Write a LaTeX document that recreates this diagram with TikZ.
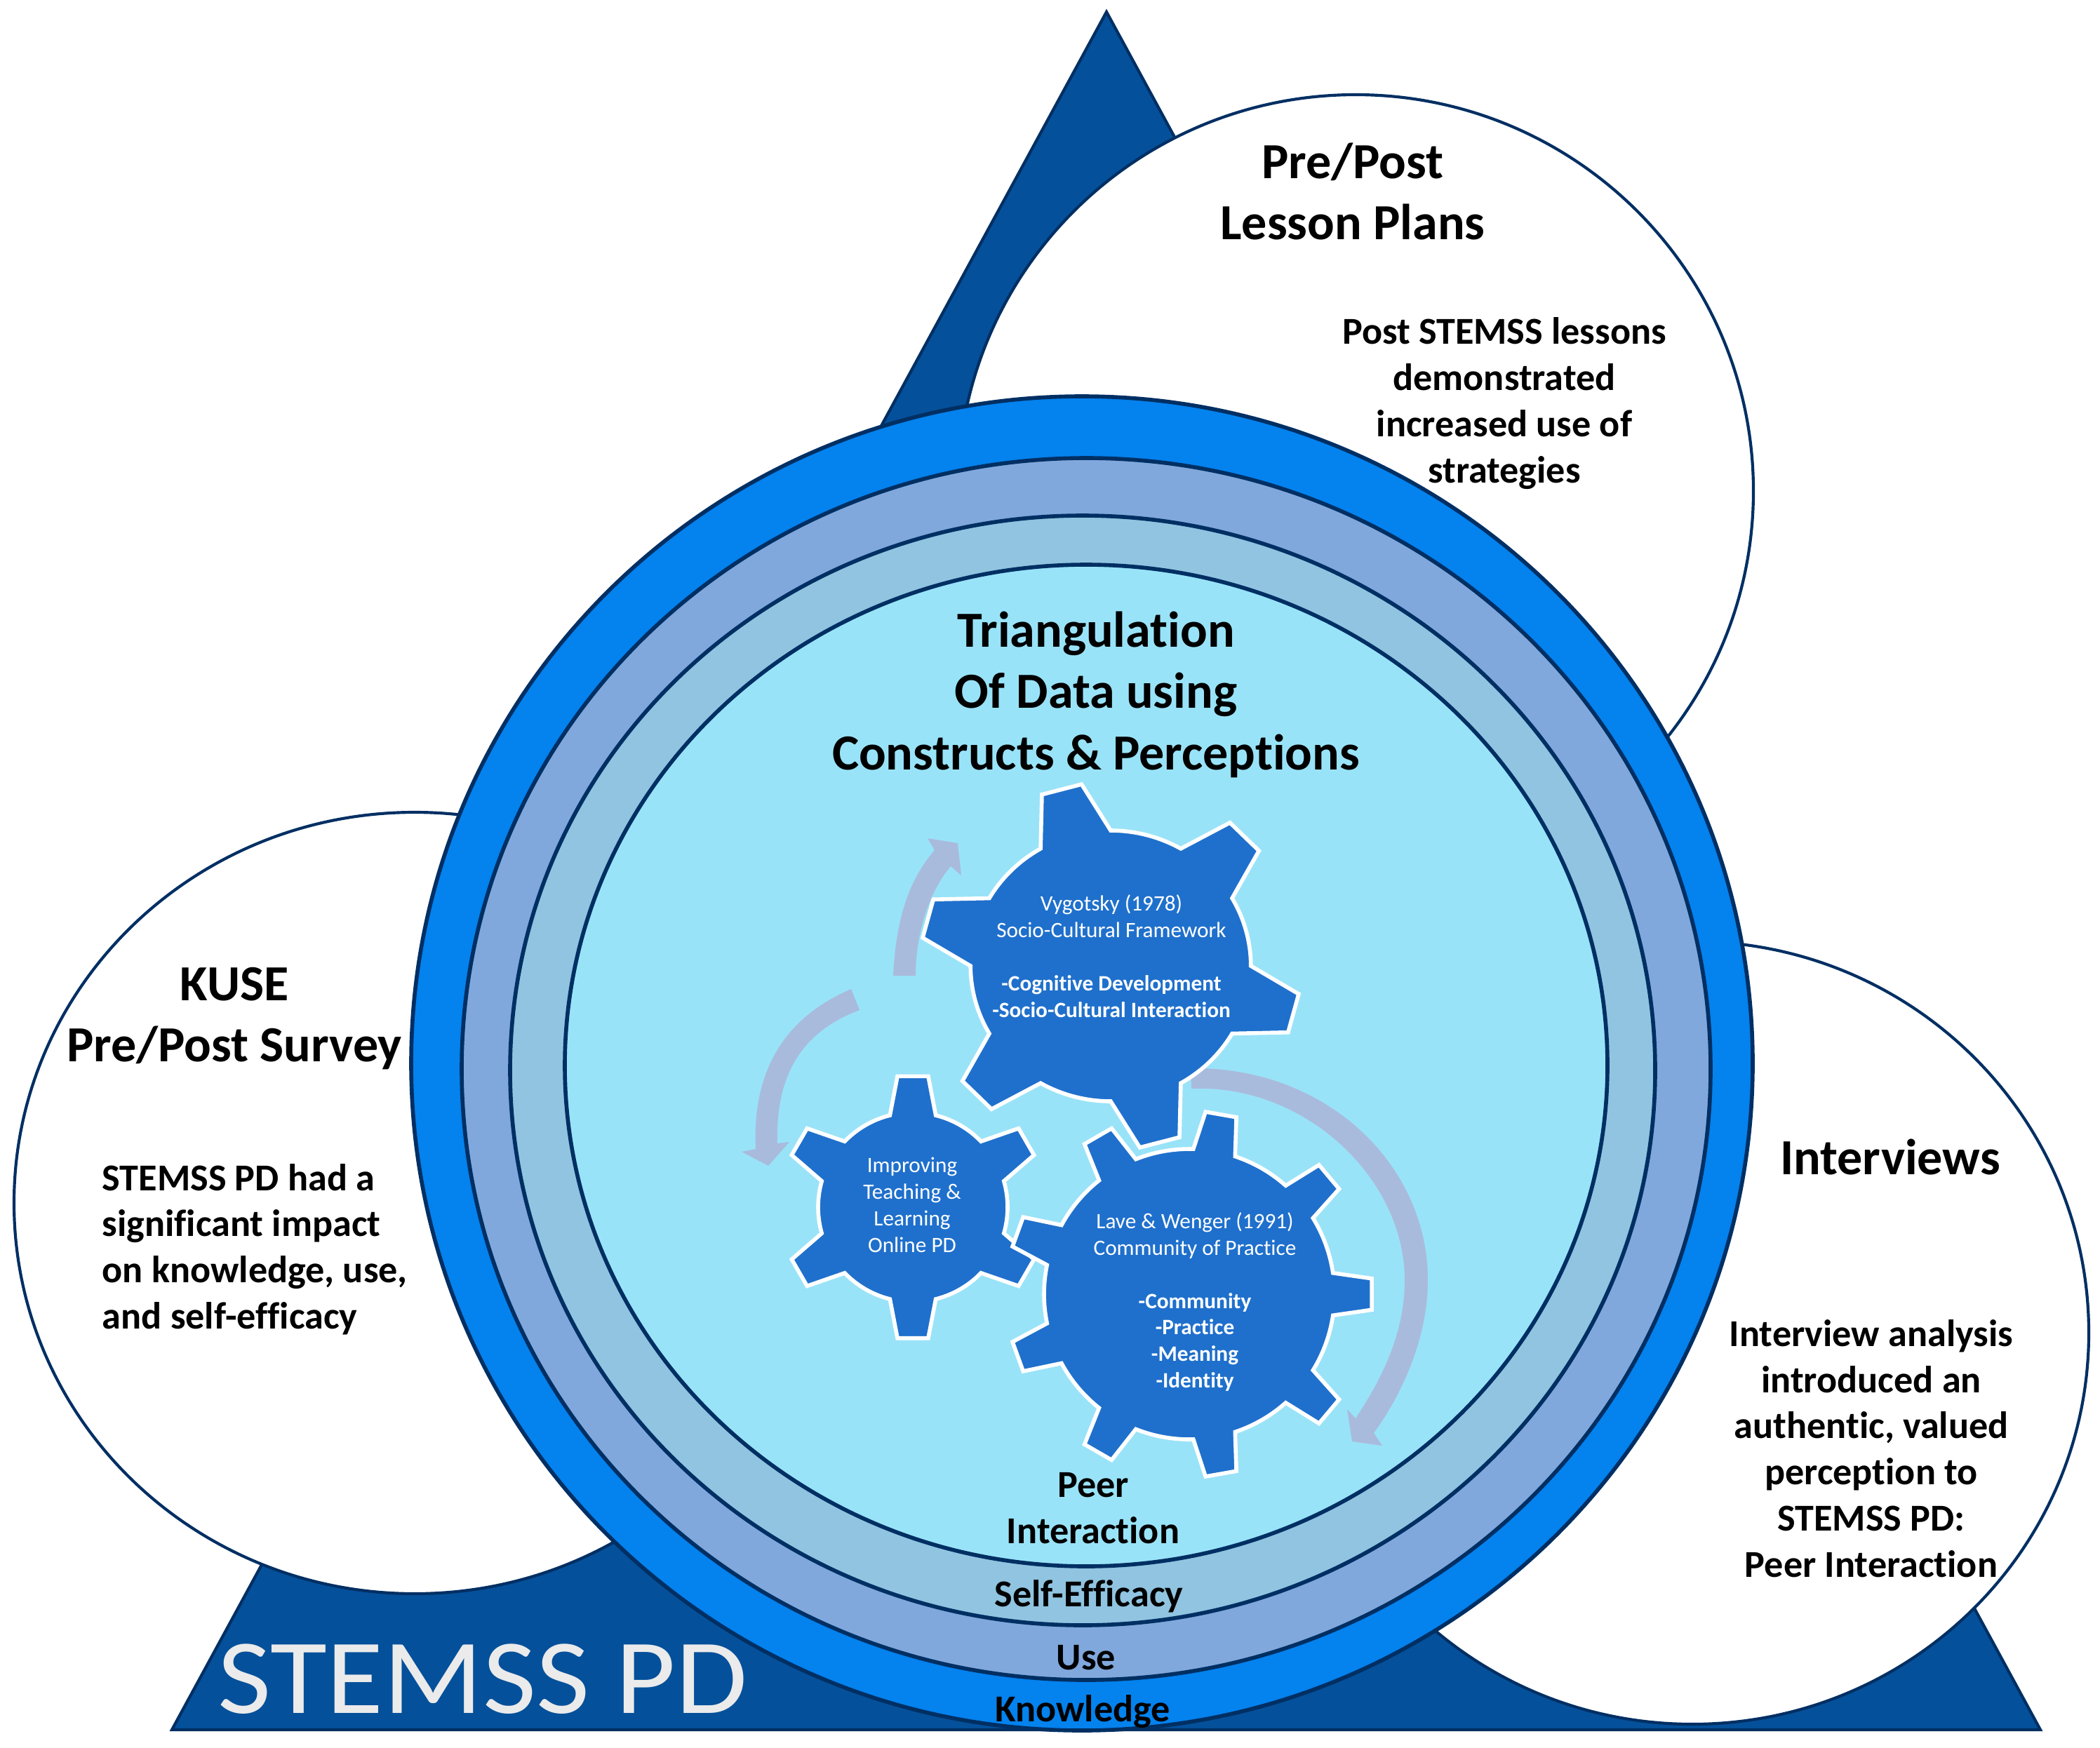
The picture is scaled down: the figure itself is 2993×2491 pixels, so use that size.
\documentclass[tikz,border=0pt]{standalone}
\usepackage{fontspec}
\setmainfont[Ligatures=NoCommon]{Carlito}
\newfontfamily\stemfont[FakeStretch=1.09]{Carlito}
\definecolor{tri}{HTML}{05509A}
\definecolor{ringA}{HTML}{0482EE}
\definecolor{ringB}{HTML}{80A8DC}
\definecolor{ringC}{HTML}{90C4E0}
\definecolor{ringD}{HTML}{99E3F8}
\definecolor{navy}{HTML}{002F63}
\definecolor{gearc}{HTML}{1F70CC}
\definecolor{arrowc}{HTML}{A9BBDD}
\tikzset{
  ring/.style={draw=navy,line width=1.35pt},
  bubble/.style={draw=navy,line width=1.0pt,fill=white},
  gearst/.style={draw=white,line width=1.35pt,fill=gearc,line join=miter},
  blockarrow/.style={fill=arrowc},
  head/.style={font=\bfseries\fontsize{17.3}{21}\selectfont,align=center,text=black,inner sep=0pt},
  body/.style={font=\bfseries\fontsize{13}{15.8}\selectfont,align=center,text=black,inner sep=0pt},
  geartext/.style={font=\fontsize{7.5}{9.1}\selectfont,align=center,text=white,inner sep=0pt},
}
\newcommand{\mygear}[9]{%
  \begin{scope}[shift={(#1,#2)},xscale=#9]
    \pgfmathsetmacro\gs{360/#3}
    \pgfmathtruncatemacro\gl{#3-1}
    \draw[gearst] ({#4-#7}:#5)
      foreach \i [evaluate=\i as \a using #4+\i*\gs] in {0,...,\gl} {
        -- ({\a-#8}:#6) -- ({\a+#8}:#6) -- ({\a+#7}:#5)
        arc ({\a+#7}:{\a+\gs-#7}:#5)
      } -- cycle;
  \end{scope}}
\begin{document}
\begin{tikzpicture}[x=0.24pt,y=-0.24pt]
\useasboundingbox (0,0) rectangle (2993,2491);
% triangle
\draw[fill=tri,draw=navy,line width=1pt,line join=miter] (1577,17) -- (2908,2466) -- (245,2466) -- cycle;
% evidence bubbles
\draw[bubble] (1932,700) ellipse [x radius=567,y radius=565];
\draw[bubble] (591,1715) ellipse [x radius=571,y radius=557];
\draw[bubble] (2412,1900) ellipse [x radius=565,y radius=558];
% concentric rings
\draw[ring,fill=ringA] (1542,1516) ellipse [x radius=956,y radius=951];
\draw[ring,fill=ringB] (1548,1524) ellipse [x radius=890,y radius=871];
\draw[ring,fill=ringC] (1543,1526) ellipse [x radius=816,y radius=791];
\draw[ring,fill=ringD] (1548,1519) ellipse [x radius=743,y radius=714];
% block arrows
\fill[blockarrow] (1273,1391) .. controls (1277,1310) and (1295,1255) .. (1332,1212)
  -- (1322,1195) -- (1365,1202) -- (1370,1248) -- (1355,1235)
  .. controls (1325,1270) and (1305,1330) .. (1305,1391) -- cycle;
\fill[blockarrow] (1213,1410) .. controls (1115,1452) and (1072,1530) .. (1077,1638)
  -- (1057,1642) -- (1095,1662) -- (1125,1628) -- (1108,1630)
  .. controls (1105,1530) and (1145,1470) .. (1225,1440) -- cycle;
\fill[blockarrow] (1697,1523) .. controls (1890,1520) and (2035,1660) .. (2035,1825)
  .. controls (2035,1905) and (2000,1985) .. (1958,2043)
  -- (1970,2061) -- (1927,2055) -- (1920,2009) -- (1932,2022)
  .. controls (1970,1965) and (2002,1900) .. (2002,1825)
  .. controls (2002,1680) and (1860,1545) .. (1698,1552) -- cycle;
% gears
\mygear{1583}{1377}{6}{-105}{193}{262}{15}{6.2}{1.035}
\mygear{1301}{1721}{6}{-90}{135}{188}{14}{6.7}{1}
\mygear{1695}{1845}{9}{0}{207}{261}{8.4}{4.9}{1}
% texts
\node[head] (lessonhead) at (1928,273) {Pre/Post\\Lesson Plans};
\node[body] (lessonbody) at (2144,575) {Post STEMSS lessons\\demonstrated\\increased use of\\strategies};
\node[head] (kusehead) at (334,1452) {KUSE\\Pre/Post Survey};
\node[body,align=left,anchor=west] (kusebody) at (145,1781) {STEMSS PD had a\\significant impact\\on knowledge, use,\\and self-efficacy};
\node[head] (inthead) at (2694,1649) {Interviews};
\node[body] (intbody) at (2667,2065) {Interview analysis\\introduced an\\authentic, valued\\perception to\\STEMSS PD:\\Peer Interaction};
\node[head] (tri) at (1562,990) {Triangulation\\Of Data using\\Constructs \& Perceptions};
\node[geartext] (gearvyg) at (1584,1363) {Vygotsky (1978)\\Socio-Cultural Framework\\[9.1pt]\textbf{-Cognitive Development}\\\textbf{-Socio-Cultural Interaction}};
\node[geartext] (gearimp) at (1300,1718) {Improving\\Teaching \&\\Learning\\Online PD};
\node[geartext] (gearlave) at (1703,1856) {Lave \& Wenger (1991)\\Community of Practice\\[9.1pt]\textbf{-Community}\\\textbf{-Practice}\\\textbf{-Meaning}\\\textbf{-Identity}};
\node[body] (peer) at (1558,2150) {Peer\\Interaction};
\node[body] (self) at (1552,2276) {Self-Efficacy};
\node[body] (use) at (1548,2363) {Use};
\node[body] (know) at (1543,2440) {Knowledge};
\node[font=\stemfont\fontsize{36.5}{40}\selectfont,text=white!92!black,inner sep=0pt] (stemss) at (688,2394) {STEMSS PD};
\end{tikzpicture}
\end{document}
